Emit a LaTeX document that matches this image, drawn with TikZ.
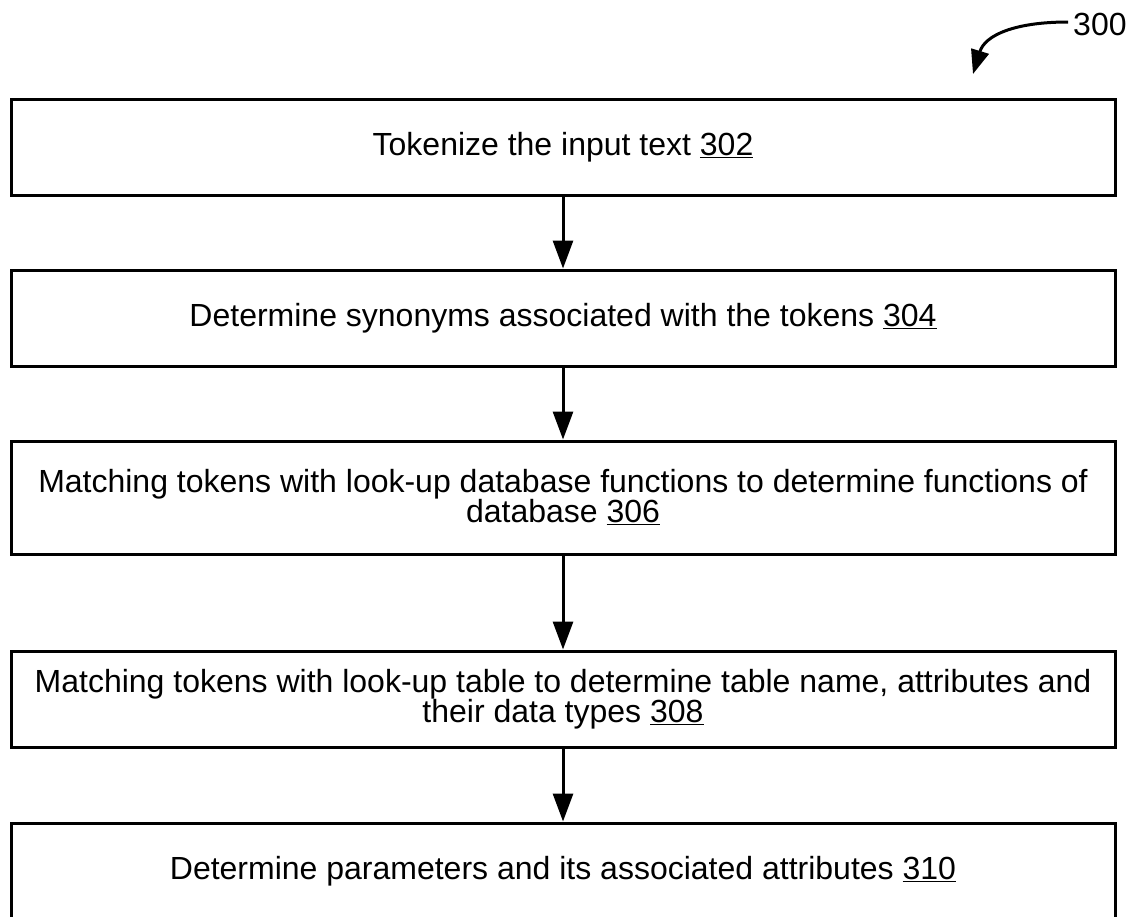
\documentclass[tikz,border=0pt]{standalone}
\usepackage{fontspec}
\setmainfont{Liberation Sans}
\usetikzlibrary{arrows.meta}
\hyphenpenalty=10000
\exhyphenpenalty=10000
\begin{document}
\begin{tikzpicture}[x=1pt,y=-1pt,
  stepbox/.style={draw,line width=3pt,minimum width=1104pt,inner sep=0pt,align=center,font=\fontsize{32}{30}\selectfont},
  flow/.style={line width=3pt,-{Triangle[length=28pt,width=20pt]}}]
\useasboundingbox (0,0) rectangle (1134,916);
\node[stepbox,minimum height=96pt] (b1) at (563,147) {Tokenize the input text \underline{302}};
\node[stepbox,minimum height=96pt] (b2) at (563,318) {Determine synonyms associated with the tokens \underline{304}};
\node[stepbox,minimum height=113pt] (b3) at (563,497.5) {Matching tokens with look-up database functions to determine functions of\\database \underline{306}};
\node[stepbox,minimum height=96pt] (b4) at (563,699) {Matching tokens with look-up table to determine table name, attributes and\\their data types \underline{308}};
\node[stepbox,minimum height=96pt] (b5) at (563,871) {Determine parameters and its associated attributes \underline{310}};
\draw[flow] (b1.south) -- (b2.north);
\draw[flow] (b2.south) -- (b3.north);
\draw[flow] (b3.south) -- (b4.north);
\draw[flow] (b4.south) -- (b5.north);
\node[font=\fontsize{32}{30}\selectfont,inner sep=0pt,anchor=west] (lbl) at (1073,24) {300};
\coordinate (tip) at (973,74);
\draw[line width=3pt,-{Triangle[length=24pt,width=18pt]}] (1068,22) .. controls (1015,22) and (985,35) .. (tip);
\end{tikzpicture}
\end{document}
